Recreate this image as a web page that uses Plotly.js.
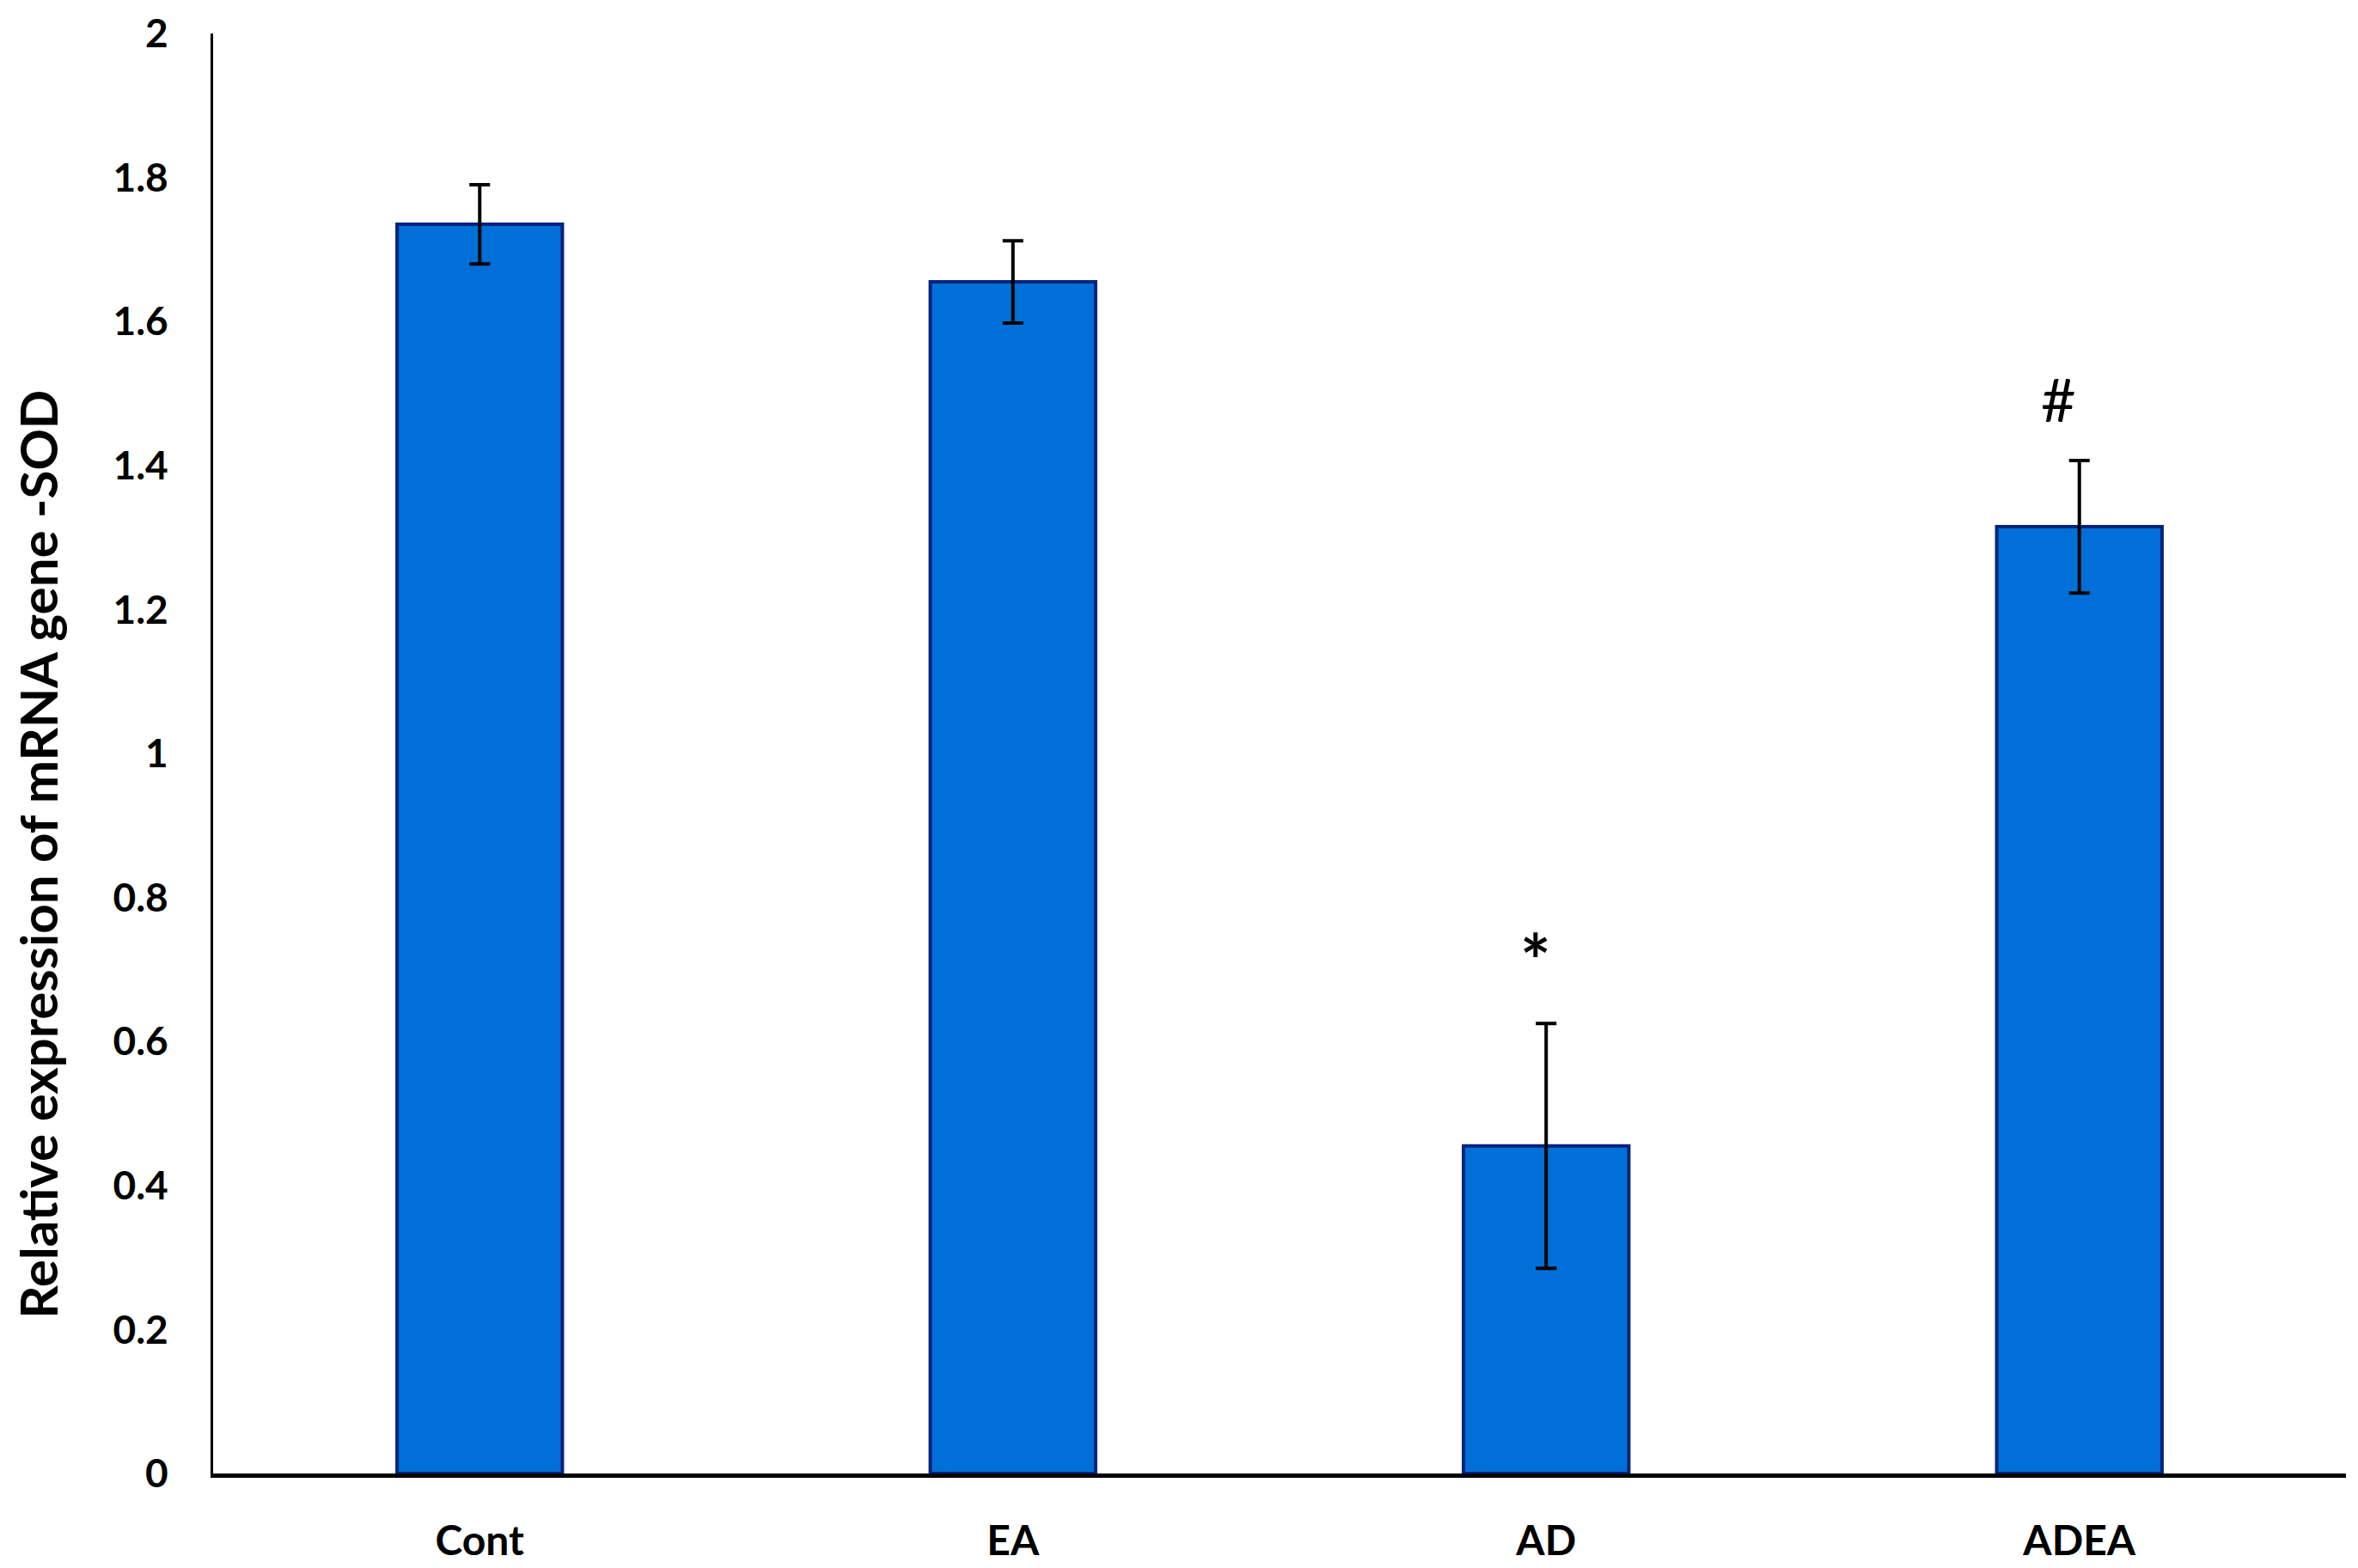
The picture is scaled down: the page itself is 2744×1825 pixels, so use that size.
<!DOCTYPE html>
<html>
<head>
<meta charset="utf-8">
<script src="https://cdn.plot.ly/plotly-3.0.1.min.js"></script>
<style>
  html, body { margin: 0; padding: 0; background: #ffffff; }
  #chart { width: 2744px; height: 1825px; }
</style>
</head>
<body>
<div id="chart"></div>
<script>
// ---- data ----
const categories = ['Cont', 'EA', 'AD', 'ADEA'];
const values = [1.735, 1.655, 0.455, 1.315];
const errors = [0.055, 0.057, 0.17, 0.092];
const sigLabels = ['', '', '*', '#'];
const yTickVals = [0, 0.2, 0.4, 0.6, 0.8, 1, 1.2, 1.4, 1.6, 1.8, 2];
const yTickText = ['0', '0.2', '0.4', '0.6', '0.8', '1', '1.2', '1.4', '1.6', '1.8', '2'];
const yTitle = 'Relative expression of mRNA gene -SOD';

// ---- styles ----
const fontFamily = 'Lato, "Open Sans", sans-serif';
const sigStyle = {
  '*': { xshift: -12, yshift: 75, size: 84, weight: 'bold' },
  '#': { xshift: -24, yshift: 72, size: 70, weight: 'normal' }
};

const trace = {
  type: 'bar',
  x: categories,
  y: values,
  marker: {
    color: '#0070d8',
    line: { color: '#06217e', width: 4 }
  },
  error_y: {
    type: 'data',
    array: errors,
    visible: true,
    color: '#000000',
    thickness: 4,
    width: 12
  },
  hoverinfo: 'none'
};

const annotations = [];
categories.forEach((c, i) => {
  const lbl = sigLabels[i];
  if (!lbl) return;
  const st = sigStyle[lbl];
  annotations.push({
    x: c, y: values[i] + errors[i], xref: 'x', yref: 'y',
    text: lbl, showarrow: false,
    xanchor: 'center', yanchor: 'middle',
    xshift: st.xshift, yshift: st.yshift,
    font: { family: 'Lato, sans-serif', size: st.size, color: '#000000', weight: st.weight }
  });
});
annotations.push({
  text: yTitle, textangle: -90,
  xref: 'paper', yref: 'paper', x: -0.082, y: 0.43,
  xanchor: 'center', yanchor: 'middle', showarrow: false,
  font: { family: fontFamily, size: 60, color: '#000000', weight: 'bold' }
});

const layout = {
  width: 2744, height: 1825,
  margin: { l: 248, r: 14, t: 39, b: 110, pad: 0 },
  paper_bgcolor: '#ffffff',
  plot_bgcolor: '#ffffff',
  showlegend: false,
  bargap: 0.69,
  xaxis: {
    type: 'category',
    range: [-0.5, 3.5],
    showline: true, linecolor: '#000000', linewidth: 5,
    showgrid: false, zeroline: false,
    ticks: '', ticklabelstandoff: 32,
    tickfont: { family: fontFamily, size: 48, color: '#000000', weight: 'bold' }
  },
  yaxis: {
    range: [0, 2],
    tickvals: yTickVals, ticktext: yTickText,
    showline: true, linecolor: '#000000', linewidth: 3,
    showgrid: false, zeroline: false,
    ticks: '', ticklabelstandoff: 40,
    tickfont: { family: fontFamily, size: 46, color: '#000000', weight: 'bold' }
  },
  annotations: annotations
};

Plotly.newPlot('chart', [trace], layout, { displayModeBar: false, staticPlot: true });
</script>
</body>
</html>
